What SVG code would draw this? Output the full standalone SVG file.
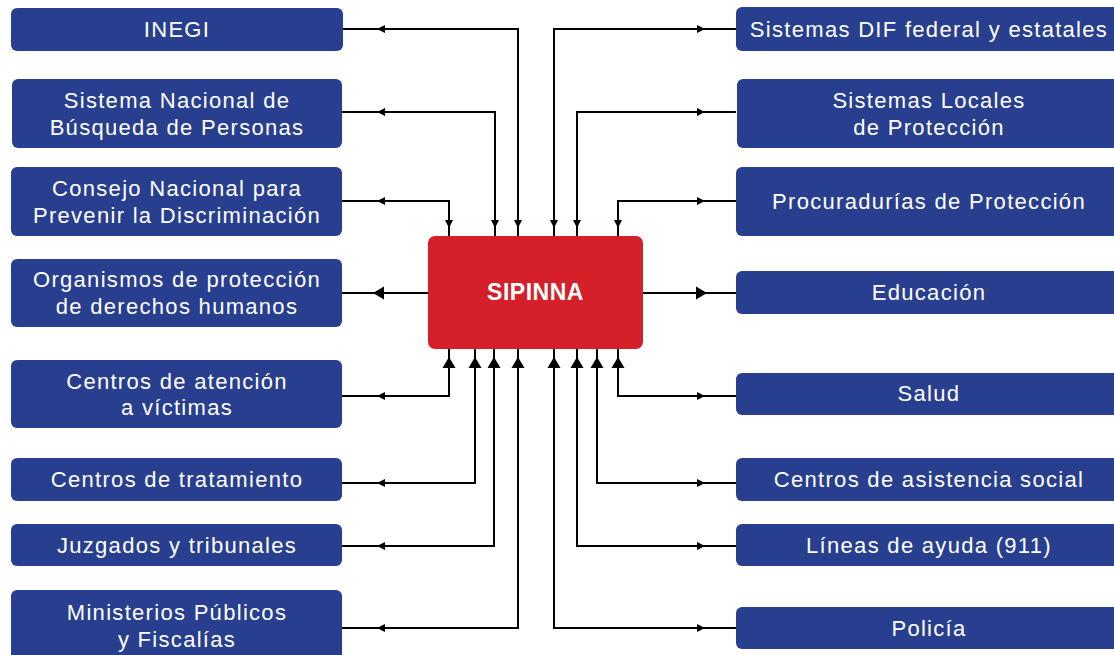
<svg xmlns="http://www.w3.org/2000/svg" width="1114" height="655" viewBox="0 0 1114 655">
<defs>
<style>
.box{fill:#283E8F;}
.lbl{font-family:"Liberation Sans",Arial,sans-serif;font-size:22px;fill:#fff;text-anchor:middle;letter-spacing:1.3px;}
.main{fill:#D52029;}
.mlbl{font-family:"Liberation Sans",Arial,sans-serif;font-size:23px;font-weight:bold;fill:#fff;text-anchor:middle;letter-spacing:0.5px;}
.ln{fill:none;stroke:#000;stroke-width:2;}
</style>
<path id="as" d="M0,0 L8,-4 L8,4 Z" fill="#000"/>
<path id="al" d="M0,0 L11,-6.5 L11,6.5 Z" fill="#000"/>
</defs>
<rect width="1114" height="655" fill="#fff"/>
<g id="connectors">
<path class="ln" d="M518,236 V29 H343"/>
<path class="ln" d="M495,236 V112 H342"/>
<path class="ln" d="M449,236 V201 H342"/>
<path class="ln" d="M554,236 V29 H736"/>
<path class="ln" d="M577,236 V112 H736"/>
<path class="ln" d="M618,236 V201 H736"/>
<path class="ln" d="M428,293 H342"/>
<path class="ln" d="M643,293 H736"/>
<path class="ln" d="M449,349 V396 H342"/>
<path class="ln" d="M475,349 V483 H342"/>
<path class="ln" d="M494,349 V546 H342"/>
<path class="ln" d="M518,349 V628 H342"/>
<path class="ln" d="M618,349 V396 H736"/>
<path class="ln" d="M597,349 V483 H736"/>
<path class="ln" d="M577,349 V546 H736"/>
<path class="ln" d="M554,349 V628 H736"/>
<use href="#as" transform="translate(377,29)"/>
<use href="#as" transform="translate(377,112)"/>
<use href="#as" transform="translate(377,201)"/>
<use href="#as" transform="translate(705,29) rotate(180)"/>
<use href="#as" transform="translate(705,112) rotate(180)"/>
<use href="#as" transform="translate(705,201) rotate(180)"/>
<use href="#as" transform="translate(449,228) rotate(-90)"/>
<use href="#as" transform="translate(495,228) rotate(-90)"/>
<use href="#as" transform="translate(518,228) rotate(-90)"/>
<use href="#as" transform="translate(554,228) rotate(-90)"/>
<use href="#as" transform="translate(577,228) rotate(-90)"/>
<use href="#as" transform="translate(618,228) rotate(-90)"/>
<use href="#al" transform="translate(373,293)"/>
<use href="#al" transform="translate(707,293) rotate(180)"/>
<use href="#al" transform="translate(449,357) rotate(90)"/>
<use href="#al" transform="translate(475,357) rotate(90)"/>
<use href="#al" transform="translate(494,357) rotate(90)"/>
<use href="#al" transform="translate(518,357) rotate(90)"/>
<use href="#al" transform="translate(554,357) rotate(90)"/>
<use href="#al" transform="translate(577,357) rotate(90)"/>
<use href="#al" transform="translate(597,357) rotate(90)"/>
<use href="#al" transform="translate(618,357) rotate(90)"/>
<use href="#as" transform="translate(377,396)"/>
<use href="#as" transform="translate(377,483)"/>
<use href="#as" transform="translate(377,546)"/>
<use href="#as" transform="translate(377,628)"/>
<use href="#as" transform="translate(705,396) rotate(180)"/>
<use href="#as" transform="translate(705,483) rotate(180)"/>
<use href="#as" transform="translate(705,546) rotate(180)"/>
<use href="#as" transform="translate(705,628) rotate(180)"/>
</g>
<g id="sipinna"><rect class="main" x="428" y="236" width="215" height="113" rx="7"/><text class="mlbl" x="535.5" y="300">SIPINNA</text></g>
<g id="inegi"><rect class="box" x="11" y="8" width="332" height="43" rx="6"/><text class="lbl" x="177" y="36.5">INEGI</text></g>
<g id="sistema-busqueda"><rect class="box" x="12" y="79" width="330" height="69" rx="6"/><text class="lbl" x="177" y="108">Sistema Nacional de</text><text class="lbl" x="177" y="135">Búsqueda de Personas</text></g>
<g id="conapred"><rect class="box" x="11" y="167" width="331" height="69" rx="6"/><text class="lbl" x="177" y="196">Consejo Nacional para</text><text class="lbl" x="177" y="223">Prevenir la Discriminación</text></g>
<g id="organismos"><rect class="box" x="11" y="259" width="331" height="68" rx="6"/><text class="lbl" x="177" y="287">Organismos de protección</text><text class="lbl" x="177" y="314">de derechos humanos</text></g>
<g id="centros-atencion"><rect class="box" x="11" y="360" width="331" height="68" rx="6"/><text class="lbl" x="177" y="389">Centros de atención</text><text class="lbl" x="177" y="415">a víctimas</text></g>
<g id="centros-tratamiento"><rect class="box" x="11" y="458" width="331" height="43" rx="6"/><text class="lbl" x="177" y="487">Centros de tratamiento</text></g>
<g id="juzgados"><rect class="box" x="11" y="524" width="331" height="42" rx="6"/><text class="lbl" x="177" y="553">Juzgados y tribunales</text></g>
<g id="ministerios"><rect class="box" x="11" y="590" width="331" height="70" rx="6"/><text class="lbl" x="177" y="620">Ministerios Públicos</text><text class="lbl" x="177" y="647">y Fiscalías</text></g>
<g id="dif"><rect class="box" x="736" y="7" width="390" height="44" rx="6"/><text class="lbl" x="929" y="36.5">Sistemas DIF federal y estatales</text></g>
<g id="sistemas-locales"><rect class="box" x="737" y="79" width="390" height="69" rx="6"/><text class="lbl" x="929" y="108">Sistemas Locales</text><text class="lbl" x="929" y="135">de Protección</text></g>
<g id="procuradurias"><rect class="box" x="736" y="167" width="390" height="69" rx="6"/><text class="lbl" x="929" y="209">Procuradurías de Protección</text></g>
<g id="educacion"><rect class="box" x="736" y="271" width="390" height="43" rx="6"/><text class="lbl" x="929" y="300">Educación</text></g>
<g id="salud"><rect class="box" x="736" y="373" width="390" height="42" rx="6"/><text class="lbl" x="929" y="401">Salud</text></g>
<g id="centros-asistencia"><rect class="box" x="736" y="458" width="390" height="43" rx="6"/><text class="lbl" x="929" y="487">Centros de asistencia social</text></g>
<g id="lineas"><rect class="box" x="736" y="524" width="390" height="42" rx="6"/><text class="lbl" x="929" y="553">Líneas de ayuda (911)</text></g>
<g id="policia"><rect class="box" x="736" y="607" width="390" height="42" rx="6"/><text class="lbl" x="929" y="636">Policía</text></g>
</svg>
